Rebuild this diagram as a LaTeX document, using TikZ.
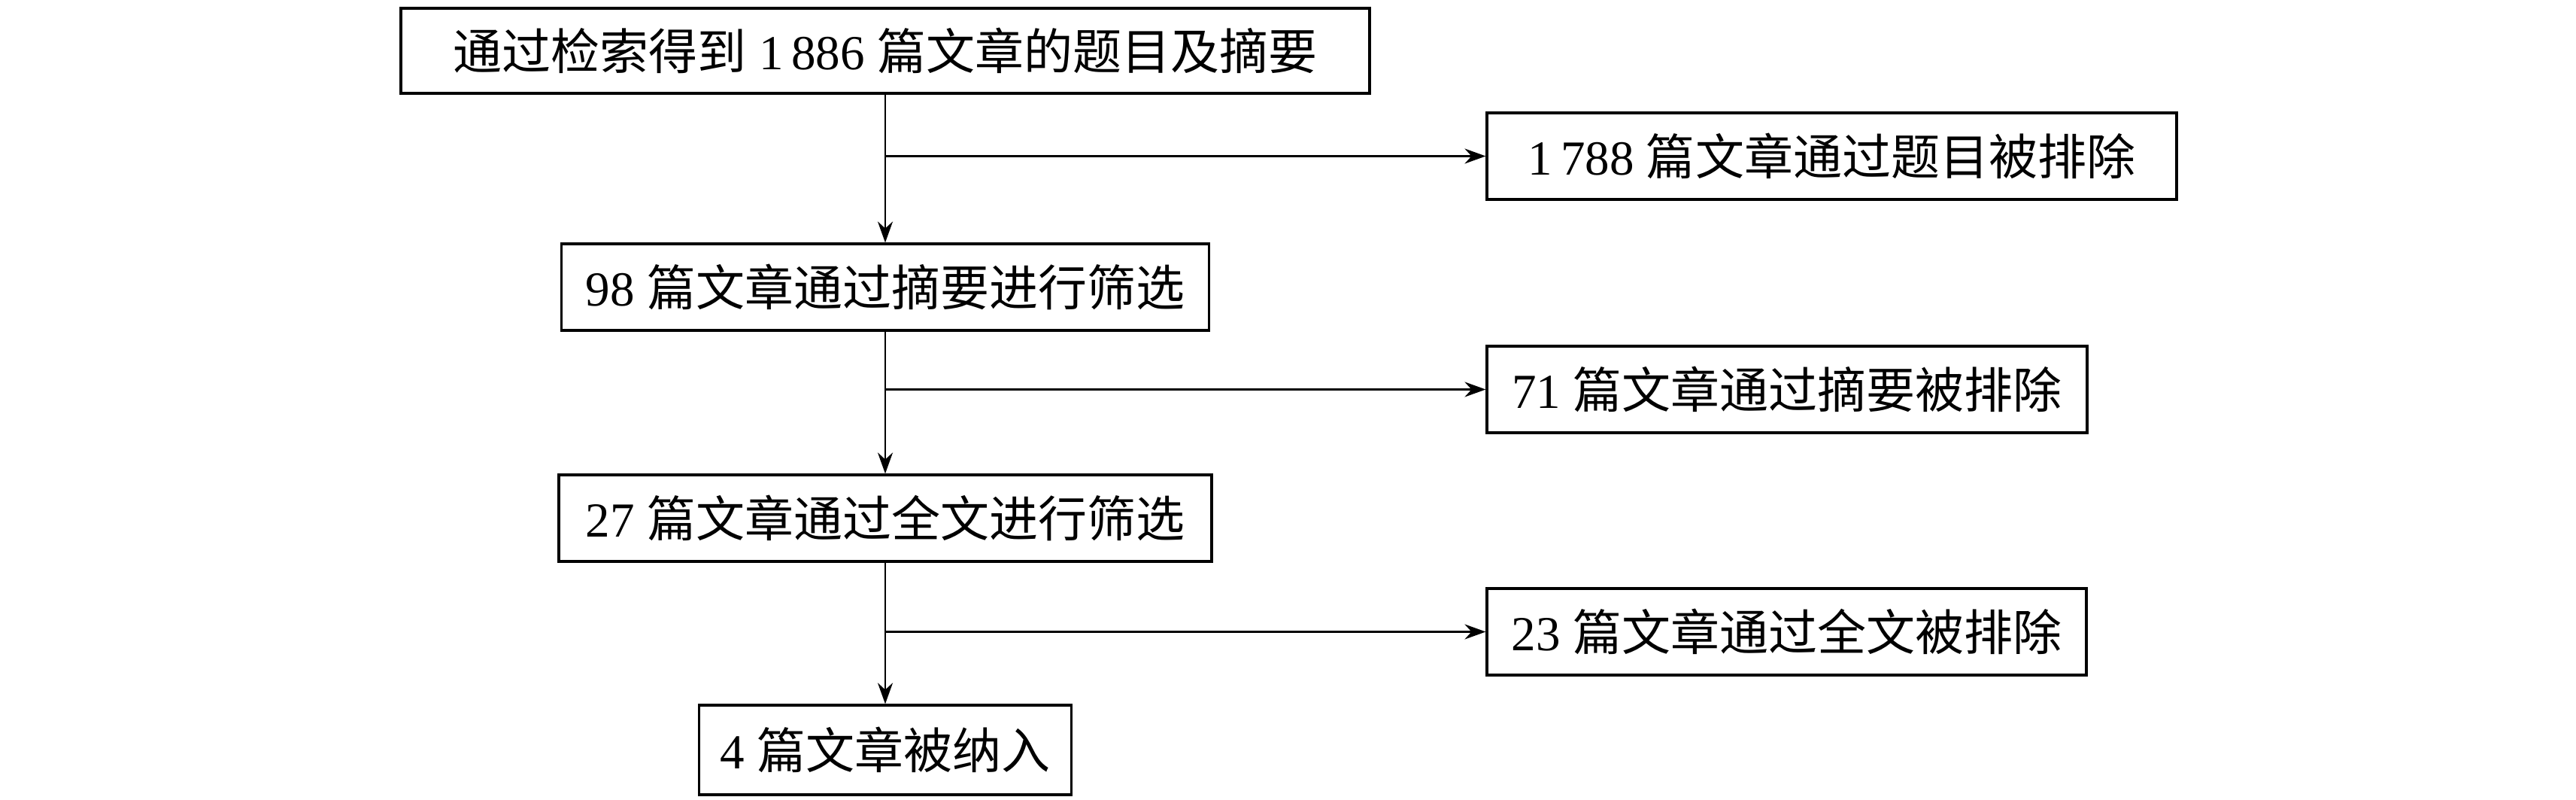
\documentclass[tikz,border=0pt]{standalone}
\usepackage{fontspec}
\setmainfont{Liberation Serif}
\newfontfamily\cjk{Noto Sans CJK SC}
\usepackage{tikz}
\usetikzlibrary{arrows.meta}

\begin{document}
\begin{tikzpicture}[
  box/.style={draw, line width=0.9pt, minimum height=1.15cm, inner sep=0pt,
    font=\fontsize{18.5}{22}\selectfont},
  flow/.style={line width=0.7pt, -{Stealth[length=2.8mm,width=2mm]}}
]
\useasboundingbox (0,0) rectangle (34.25,-10.63);
\node[box, minimum width=12.88cm, minimum height=1.13cm] (found) at (11.77,-0.675) {{\cjk 通过检索得到} 1\,886 {\cjk 篇文章的题目及摘要}};
\node[box, minimum width=9.17cm] (outtitle) at (24.355,-2.075) {1\,788 {\cjk 篇文章通过题目被排除}};
\node[box, minimum width=8.61cm] (abstract) at (11.77,-3.815) {98 {\cjk 篇文章通过摘要进行筛选}};
\node[box, minimum width=7.98cm] (outabs) at (23.76,-5.175) {71 {\cjk 篇文章通过摘要被排除}};
\node[box, minimum width=8.68cm] (fulltext) at (11.77,-6.885) {27 {\cjk 篇文章通过全文进行筛选}};
\node[box, minimum width=7.97cm] (outfull) at (23.755,-8.395) {23 {\cjk 篇文章通过全文被排除}};
\node[box, minimum width=4.95cm, minimum height=1.19cm] (included) at (11.77,-9.965) {4 {\cjk 篇文章被纳入}};
% branch points on the trunk
\coordinate (b1) at (found.south |- outtitle.west);
\coordinate (b2) at (abstract.south |- outabs.west);
\coordinate (b3) at (fulltext.south |- outfull.west);
\draw[flow] (found.south) -- (abstract.north);
\draw[flow] (abstract.south) -- (fulltext.north);
\draw[flow] (fulltext.south) -- (included.north);
\draw[flow] (b1) -- (outtitle.west);
\draw[flow] (b2) -- (outabs.west);
\draw[flow] (b3) -- (outfull.west);
\end{tikzpicture}
\end{document}
